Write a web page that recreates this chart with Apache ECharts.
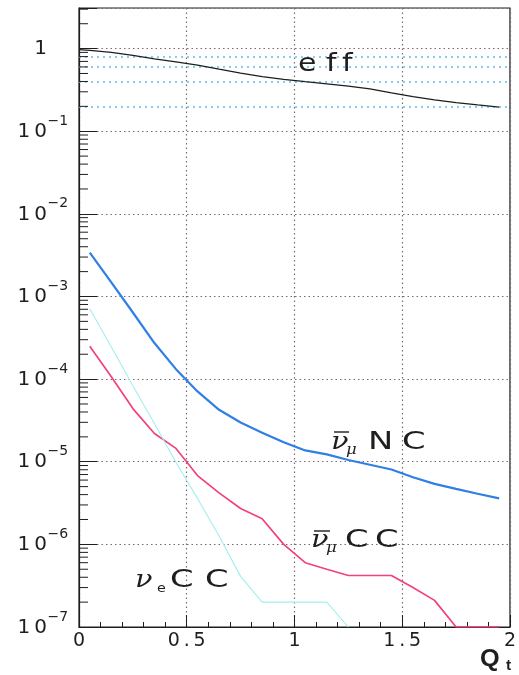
<!DOCTYPE html>
<html><head><meta charset="utf-8">
<script src="https://cdn.jsdelivr.net/npm/echarts@6.0.0/dist/echarts.min.js"></script>
<style>html,body{margin:0;padding:0;background:#fff}#c{width:519px;height:675px}</style>
</head><body><div id="c"></div>
<script>
// Bin centres of Q_t
const qt = [0.05,0.15,0.25,0.35,0.45,0.55,0.65,0.75,0.85,0.95,1.05,1.15,1.25,1.35,1.45,1.55,1.65,1.75,1.85,1.95];
// efficiency curve (starts at Q_t = 0)
const effQt = [0,0.05,0.15,0.25,0.35,0.45,0.55,0.65,0.75,0.85,0.95,1.05,1.15,1.25,1.35,1.45,1.55,1.65,1.75,1.85,1.95];
const eff = [0.972,0.954,0.902,0.829,0.752,0.692,0.631,0.564,0.505,0.458,0.425,0.398,0.374,0.351,0.326,0.292,0.262,0.240,0.222,0.208,0.196];
// anti-nu_mu NC
const numuNC = [3.4e-3,1.48e-3,6.4e-4,2.73e-4,1.32e-4,7.1e-5,4.25e-5,2.99e-5,2.25e-5,1.72e-5,1.37e-5,1.23e-5,1.05e-5,9.2e-6,8.05e-6,6.5e-6,5.4e-6,4.7e-6,4.1e-6,3.6e-6];
// anti-nu_mu CC
const numuCC = [2.5e-4,1.07e-4,4.4e-5,2.2e-5,1.45e-5,6.8e-6,4.2e-6,2.72e-6,2.04e-6,1.0e-6,6.0e-7,5.0e-7,4.2e-7,4.2e-7,4.2e-7,3.0e-7,2.1e-7,1.0e-7,1.0e-7,1.0e-7];
// nu_e CC
const nueCC = [7.1e-4,2.45e-4,8.3e-5,2.9e-5,9.8e-6,3.6e-6,1.26e-6,4.1e-7,2.0e-7,2.0e-7,2.0e-7,2.0e-7,1.0e-7,null,null,null,null,null,null,null];
// dotted efficiency guide levels
const effGuides = [0.8,0.6,0.4,0.2];
// axis tick labels
const xTickLabels = {'0':'0','0.5':'0\u2009.\u20095','1':'1','1.5':'1\u2009.\u20095','2':'2'};
const yDecadeExps = [-7,-6,-5,-4,-3,-2,-1,0];

const minorTickVals = [];
yDecadeExps.forEach(e => { for (let m = 2; m <= 9; m++) { const v = m * Math.pow(10, e); if (v <= 3.1) minorTickVals.push([0, v]); } });
const yLabelData = yDecadeExps.map(e => [0, Math.pow(10, e), e]);

const pair = (xs, ys) => xs.map((x, i) => [x, ys[i]]);
const INK = '#1e1e1e';
const GRID = '#7a6a72';

function glyphs(list) {
  return list.map(g => ({
    type: 'text', x: g.x, y: g.base - 0.3 * g.size, scaleX: g.sx || 1.25,
    z: 100,
    style: { text: g.t, font: (g.f || '') + ' ' + g.size + 'px ' + (g.fam || '"DejaVu Sans"'), fill: g.c || INK, textVerticalAlign: 'middle', textAlign: 'left' }
  }));
}
const bar = (x1, x2, y) => ({ type: 'line', z: 100, shape: { x1, y1: y, x2, y2: y }, style: { stroke: INK, lineWidth: 1.4 } });
const SERIF = '"DejaVu Serif"';

const chart = echarts.init(document.getElementById('c'), null, { renderer: 'canvas' });
chart.setOption({
  animation: false,
  backgroundColor: '#fff',
  grid: { left: 79, right: 6, top: 8, bottom: 48, show: true, borderColor: INK, borderWidth: 1.2, backgroundColor: 'transparent' },
  xAxis: {
    type: 'value', min: 0, max: 2, interval: 0.5,
    axisLine: { show: true, lineStyle: { color: INK, width: 1.2 } },
    axisTick: { show: true, inside: true, length: 12, lineStyle: { color: INK, width: 1 } },
    minorTick: { show: true, splitNumber: 5, length: 5, lineStyle: { color: INK, width: 1 } },
    splitLine: { show: true, lineStyle: { type: [1.5, 3], color: GRID, width: 1.2 } },
    axisLabel: { fontSize: 19, fontFamily: 'DejaVu Sans', color: INK, margin: 5,
      formatter: v => xTickLabels[String(v)] !== undefined ? xTickLabels[String(v)] : '' }
  },
  yAxis: {
    type: 'log', logBase: 10, min: 1e-7, max: 3.1,
    axisLine: { show: true, lineStyle: { color: INK, width: 1.2 } },
    axisTick: { show: true, inside: true, length: 18, lineStyle: { color: INK, width: 1 } },
    splitLine: { show: true, lineStyle: { type: [1.5, 3], color: GRID, width: 1.2 } },
    axisLabel: { show: false }
  },
  series: [
    { type: 'line', data: pair(effQt, eff), showSymbol: false, smooth: false, z: 5,
      lineStyle: { color: INK, width: 1.3 },
      markLine: { silent: true, symbol: 'none', label: { show: false },
        lineStyle: { color: '#5cc0f0', type: [2, 4], width: 1.6 },
        data: effGuides.map(v => ({ yAxis: v })) } },
    { type: 'line', data: pair(qt, numuNC), showSymbol: false, z: 6, lineStyle: { color: '#2f7fe6', width: 2.2 } },
    { type: 'line', data: pair(qt, numuCC), showSymbol: false, z: 6, lineStyle: { color: '#f2417c', width: 1.7 } },
    { type: 'line', data: pair(qt, nueCC), showSymbol: false, z: 6, connectNulls: false, lineStyle: { color: '#a2efee', width: 1.1 } },
    { type: 'custom', coordinateSystem: 'cartesian2d', data: minorTickVals, silent: true, z: 7, clip: false,
      renderItem: (params, api) => {
        const p = api.coord([0, api.value(1)]);
        return { type: 'line', shape: { x1: p[0], y1: p[1], x2: p[0] + 9, y2: p[1] }, style: { stroke: INK, lineWidth: 1 } };
      } },
    // y-axis decade labels "10^-n" placed through the log scale
    { type: 'custom', coordinateSystem: 'cartesian2d', data: yLabelData, silent: true, z: 8, clip: false,
      renderItem: (params, api) => {
        const p = api.coord([0, api.value(1)]);
        const e = api.value(2);
        const bx = p[0] - 32;
        const children = [{ type: 'text', x: bx, y: p[1] + 0.5,
          style: { text: e === 0 ? '1' : '1\u20090', font: '20px "DejaVu Sans"', fill: INK, textAlign: 'right', textVerticalAlign: 'middle' } }];
        if (e !== 0) children.push({ type: 'text', x: bx + 0.5, y: p[1] - 10,
          style: { text: '\u2212' + (-e), font: '14px "DejaVu Sans"', fill: INK, textAlign: 'left', textVerticalAlign: 'middle' } });
        return { type: 'group', children };
      } }
  ],
  graphic: [].concat(
    glyphs([
      { t: 'e', x: 298, base: 72, size: 24 }, { t: 'f', x: 326, base: 72, size: 24 }, { t: 'f', x: 342, base: 72, size: 24 },
      // anti-nu_mu NC
      { t: 'ν', x: 331, base: 450, size: 24, fam: SERIF, f: 'italic', sx: 1.2 },
      { t: 'μ', x: 346, base: 455, size: 15, fam: SERIF, f: 'italic', sx: 1.1 },
      { t: 'N', x: 368, base: 450, size: 25, sx: 1.35 }, { t: 'C', x: 402, base: 450, size: 25, sx: 1.35 },
      // anti-nu_mu CC
      { t: 'ν', x: 311, base: 548, size: 24, fam: SERIF, f: 'italic', sx: 1.2 },
      { t: 'μ', x: 326, base: 553, size: 15, fam: SERIF, f: 'italic', sx: 1.1 },
      { t: 'C', x: 345, base: 548, size: 25, sx: 1.35 }, { t: 'C', x: 375, base: 548, size: 25, sx: 1.35 },
      // nu_e CC
      { t: 'ν', x: 135, base: 588, size: 24, fam: SERIF, f: 'italic', sx: 1.2 },
      { t: 'e', x: 157, base: 593, size: 13, sx: 1.1 },
      { t: 'C', x: 170, base: 588, size: 25, sx: 1.35 }, { t: 'C', x: 205, base: 588, size: 25, sx: 1.35 },
      // axis title
      { t: 'Q', x: 480, base: 667, size: 23, f: 'bold', fam: '"Liberation Sans"', sx: 1.1 },
      { t: 't', x: 506, base: 670, size: 14, f: 'bold', fam: '"Liberation Sans"', sx: 1.1 }
    ]),
    [bar(334, 349, 432), bar(314, 330, 531)]
  )
});
</script></body></html>
